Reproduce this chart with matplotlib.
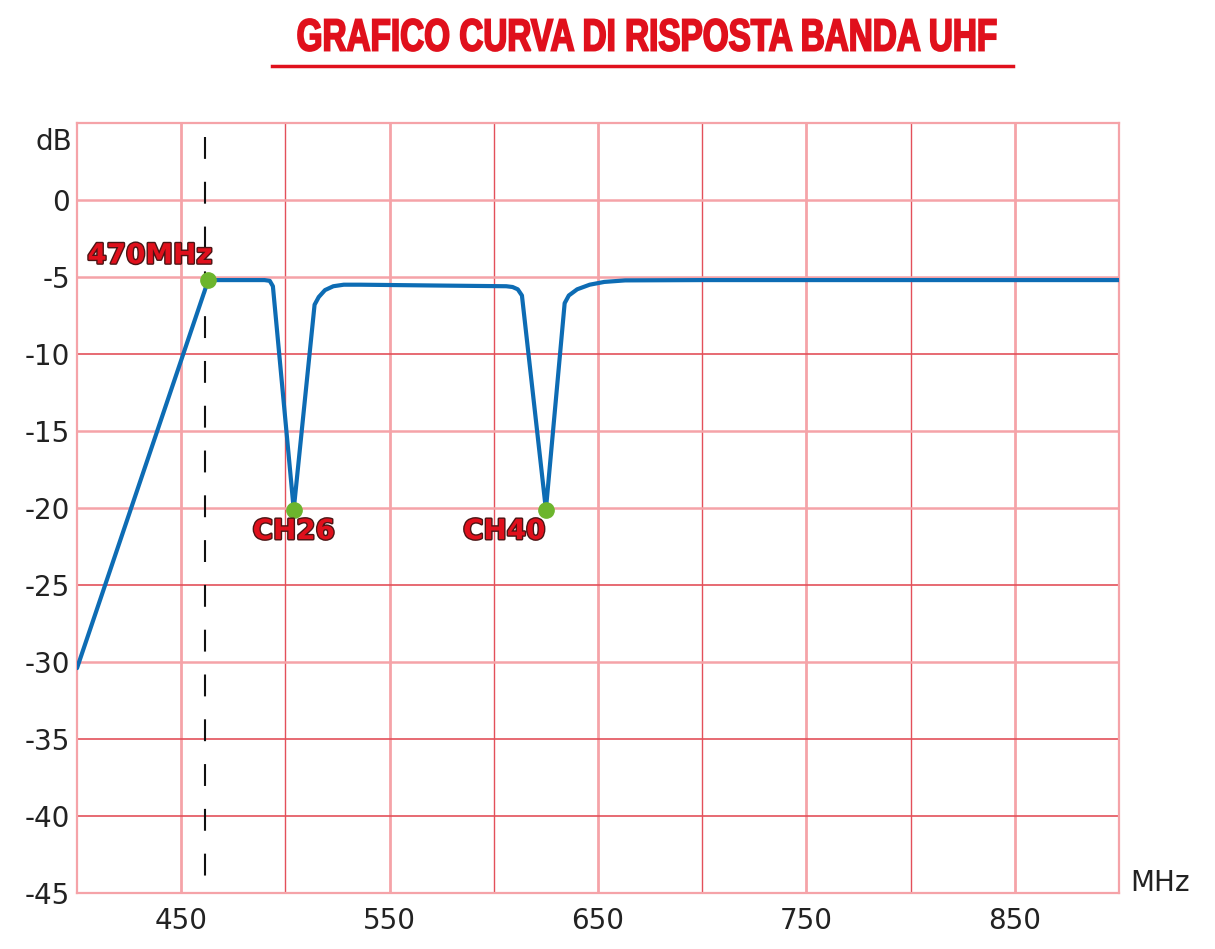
import matplotlib
matplotlib.use("Agg")
import matplotlib.pyplot as plt
import matplotlib.patheffects as pe
from matplotlib.lines import Line2D
from matplotlib.textpath import TextPath
from matplotlib.patches import PathPatch
from matplotlib.font_manager import FontProperties
from matplotlib.transforms import Affine2D

plt.rcParams["axes.unicode_minus"] = False

# response curve (MHz, dB)
freq = [400, 463, 490, 492.5, 494, 504, 514, 516, 519, 523, 528, 536, 570, 606,
        609, 611.5, 613.5, 625, 634, 636, 640, 646, 653, 663, 700, 800, 900]
gain = [-30.4, -5.2, -5.2, -5.25, -5.6, -20.1, -6.8, -6.3, -5.85, -5.6, -5.5,
        -5.5, -5.55, -5.6, -5.65, -5.8, -6.2, -20.1, -6.7, -6.2, -5.8, -5.5,
        -5.32, -5.22, -5.2, -5.2, -5.2]

# marked points
mark_x = [463, 504, 625]
mark_y = [-5.2, -20.1, -20.1]
mark_labels = ["470MHz", "CH26", "CH40"]

cutoff = 461.5
x_ticks = [450, 550, 650, 750, 850]
x_grid = [450, 500, 550, 600, 650, 700, 750, 800, 850]
y_ticks = [0, -5, -10, -15, -20, -25, -30, -35, -40, -45]
y_dark = [-10, -25, -35, -40, 5]

title = "GRAFICO CURVA DI RISPOSTA BANDA UHF"

light = "#f5a3a8"
dark = "#e3505a"
W, H = 1215, 949

fig = plt.figure(figsize=(W / 100, H / 100), dpi=100)
ax = fig.add_axes([77 / W, 1 - 893 / H, 1042 / W, 770 / H])
ax.set_xlim(400, 900)
ax.set_ylim(-45, 5)

# grid: labelled lines lighter, in-between lines darker
for x in x_grid:
    ax.axvline(x, color=light if x in x_ticks else dark,
               lw=2.0 if x in x_ticks else 1.0, zorder=1)
for y in y_ticks + [5]:
    ax.axhline(y, color=dark if y in y_dark else light,
               lw=1.2 if y in y_dark else 1.8, zorder=1)

for s in ax.spines.values():
    s.set_color(light)
    s.set_linewidth(1.6)

ax.set_xticks(x_ticks)
ax.set_yticks(y_ticks)
ax.tick_params(length=0, labelsize=20, labelcolor="#222222", pad=5)
ax.tick_params(axis="x", pad=10)

ax.plot([cutoff, cutoff], [4.1, -45], color="#111111", lw=1.5,
        ls=(0, (10.5, 11.0)), zorder=2)

ax.plot(freq, gain, color="#0d6cb4", lw=3.0, zorder=3,
        solid_joinstyle="round", solid_capstyle="round")
ax.plot(mark_x, mark_y, "o", color="#6cb52d", ms=11, zorder=4)

outline = [pe.withStroke(linewidth=2.0, foreground="#4a1515")]
offsets = [(-28, 1.6), (0, -1.4), (-20, -1.4)]
for mx, my, lab, (dx, dy) in zip(mark_x, mark_y, mark_labels, offsets):
    ax.text(mx + dx, my + dy, lab, color="#e0101c", fontsize=20,
            fontweight="bold", ha="center", va="center",
            path_effects=outline, zorder=5)

fig.text(72 / W, 1 - 142 / H, "dB", fontsize=20, color="#222222",
         ha="right", va="center")
fig.text(1130 / W, 1 - 883 / H, "MHz", fontsize=20, color="#222222",
         ha="left", va="center")

# condensed bold title: squeeze a text path into the box it fills in the picture
tp = TextPath((0, 0), title, size=40,
              prop=FontProperties(family="Liberation Sans", weight="bold"))
bb = tp.get_extents()
tx0, tx1, ty0, ty1 = 298 / W, 996 / W, 1 - 51 / H, 1 - 19 / H
tr = (Affine2D().translate(-bb.x0, -bb.y0)
      .scale((tx1 - tx0) / bb.width, (ty1 - ty0) / bb.height)
      .translate(tx0, ty0))
fig.add_artist(PathPatch(tp, transform=tr + fig.transFigure,
                         facecolor="#e0101c", edgecolor="#e0101c", lw=1.3))
fig.add_artist(Line2D([272 / W, 1013 / W], [1 - 66 / H, 1 - 66 / H],
                      color="#e0101c", lw=2.5))

fig.savefig("out.png", dpi=100)
